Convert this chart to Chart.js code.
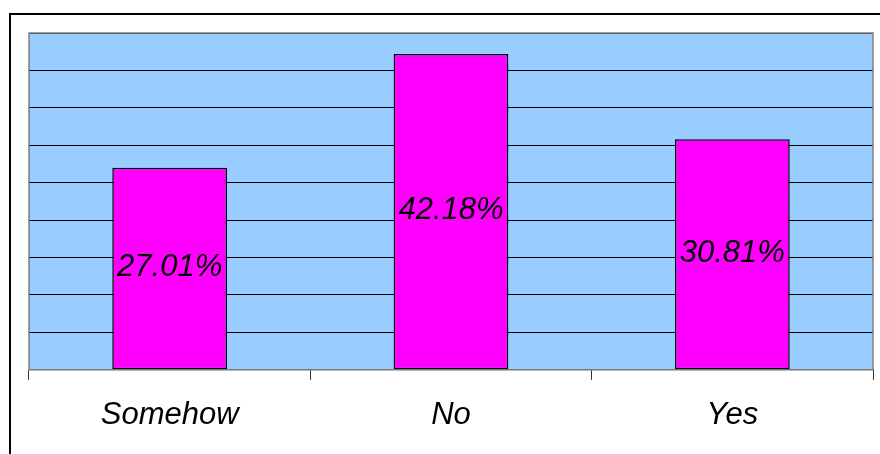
<!DOCTYPE html>
<html>
<head>
<meta charset="utf-8">
<script src="https://cdn.jsdelivr.net/npm/chart.js@4.4.1/dist/chart.umd.min.js"></script>
<style>
html,body{margin:0;padding:0;background:#fff;}
#wrap{position:absolute;left:0;top:0;width:880px;height:454px;}
</style>
</head>
<body>
<div id="wrap"><canvas id="c" width="880" height="454"></canvas></div>
<script>
const categories = ["Somehow", "No", "Yes"];
const values = [27.01, 42.18, 30.81];
const labels = ["27.01%", "42.18%", "30.81%"];
const yMax = 45;
const yStep = 5;

const frame = {
  id: 'frame',
  beforeDraw(chart) {
    const ctx = chart.ctx, a = chart.chartArea;
    ctx.save();
    ctx.fillStyle = '#fff';
    ctx.fillRect(0, 0, chart.width, chart.height);
    ctx.strokeStyle = '#000';
    ctx.lineWidth = 2;
    ctx.strokeRect(10, 14, 2000, 2000);
    ctx.fillStyle = '#99CCFF';
    ctx.fillRect(a.left, a.top, a.right - a.left, a.bottom - a.top);
    ctx.restore();
  },
  beforeDatasetsDraw(chart) {
    const ctx = chart.ctx, a = chart.chartArea;
    ctx.save();
    ctx.strokeStyle = '#808080';
    ctx.lineWidth = 1.5;
    ctx.strokeRect(a.left, a.top, a.right - a.left, a.bottom - a.top);
    ctx.restore();
  },
  afterDatasetsDraw(chart) {
    const ctx = chart.ctx;
    const meta = chart.getDatasetMeta(0);
    ctx.save();
    ctx.font = 'italic 31px "Liberation Sans", Arial, sans-serif';
    ctx.fillStyle = '#000';
    ctx.textAlign = 'center';
    ctx.textBaseline = 'middle';
    meta.data.forEach((el, i) => {
      const p = el.getProps(['x', 'y', 'base'], true);
      ctx.fillText(labels[i], p.x, (p.y + p.base) / 2 - 1);
    });
    ctx.restore();
  }
};

new Chart(document.getElementById('c'), {
  type: 'bar',
  data: {
    labels: categories,
    datasets: [{
      data: values,
      backgroundColor: '#FF00FF',
      borderColor: '#000',
      borderWidth: 1.5,
      borderSkipped: false,
      categoryPercentage: 1,
      barPercentage: 0.408
    }]
  },
  options: {
    responsive: false,
    animation: false,
    devicePixelRatio: 1,
    layout: { padding: { left: 29, top: 33, right: 7, bottom: 3 } },
    plugins: { legend: { display: false }, tooltip: { enabled: false } },
    scales: {
      x: {
        offset: true,
        grid: { offset: true, drawOnChartArea: false, drawTicks: true, tickLength: 10, color: '#333', lineWidth: 1 },
        border: { display: true, color: '#000', width: 1 },
        ticks: { color: '#000', padding: 17, font: { family: '"Liberation Sans", Arial, sans-serif', size: 31, style: 'italic' } }
      },
      y: {
        min: 0, max: yMax,
        ticks: { display: false, stepSize: yStep },
        grid: { color: '#000', lineWidth: 1, drawTicks: false },
        border: { display: false }
      }
    }
  },
  plugins: [frame]
});
</script>
</body>
</html>
